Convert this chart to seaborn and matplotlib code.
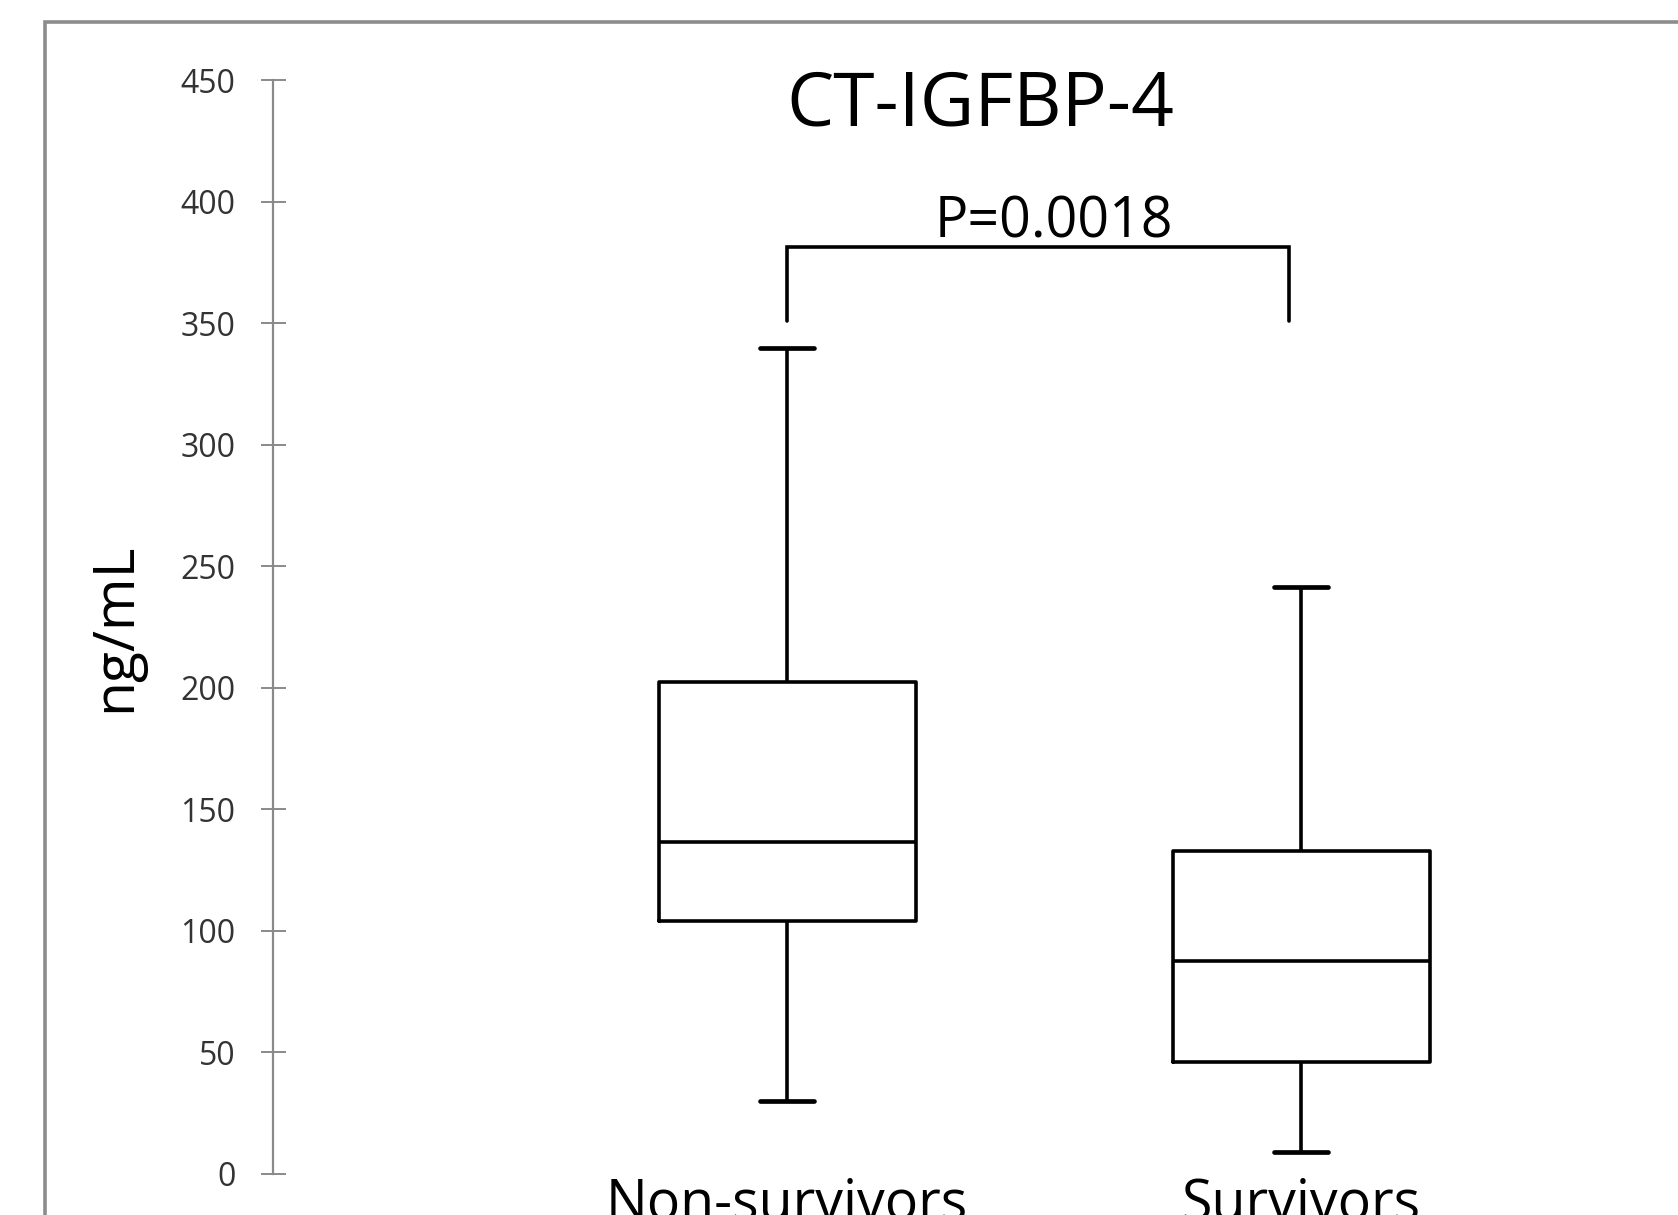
import matplotlib
matplotlib.use("Agg")
import matplotlib.pyplot as plt
import matplotlib.transforms as mtransforms
import seaborn as sns
import pandas as pd
from matplotlib.patches import Rectangle

# ---- data ----
groups = ["Non-survivors", "Survivors"]
# five-number summaries: min, Q1, median, Q3, max
nonsurv_stats = [30.0, 104.0, 136.5, 202.5, 340.0]
surv_stats = [9.0, 46.0, 87.5, 133.0, 241.5]
y_ticks = [0, 50, 100, 150, 200, 250, 300, 350, 400, 450]
title_text = "CT-IGFBP-4"
p_text = "P=0.0018"
y_label = "ng/mL"

df = pd.DataFrame({
    "group": [groups[0]] * len(nonsurv_stats) + [groups[1]] * len(surv_stats),
    "value": nonsurv_stats + surv_stats,
})

sns.set_theme(style="white")
plt.rcParams["font.family"] = ["Open Sans", "DejaVu Sans"]

W, H = 1678, 1215
fig = plt.figure(figsize=(W / 100, H / 100), dpi=100)
fig.patch.set_facecolor("white")

ax_left, ax_bottom, ax_top = 273 / W, (H - 1174) / H, 1 - 80.3 / H
ax = fig.add_axes([ax_left, ax_bottom, 1 - ax_left, ax_top - ax_bottom])

lw = 2.6
sns.boxplot(
    data=df, x="group", y="value", order=groups, ax=ax,
    whis=(0, 100), width=0.5, fill=False, color="black", linewidth=lw,
    capwidths=0.105,
    boxprops=dict(color="black", linewidth=lw),
    whiskerprops=dict(color="black", linewidth=lw),
    capprops=dict(color="black", linewidth=lw * 1.3),
    medianprops=dict(color="black", linewidth=lw),
    showfliers=False,
)

ax.set_xlim(-1.0, 1.733)
ax.set_ylim(0, 450)
ax.set_yticks(y_ticks)
ax.set_xlabel("")
ax.set_ylabel(y_label, fontsize=41, color="black")
ax.yaxis.set_label_coords(
    144 / W, 0.5,
    transform=mtransforms.blended_transform_factory(fig.transFigure, ax.transAxes))

for s in ["top", "right", "bottom"]:
    ax.spines[s].set_visible(False)
ax.spines["left"].set_color("#8a8a8a")
ax.spines["left"].set_linewidth(1.6)

ax.tick_params(axis="y", direction="inout", length=18, width=1.4, color="#8a8a8a",
               labelsize=23, labelcolor="#333333", pad=18, left=True)
ax.tick_params(axis="x", length=0, labelsize=40, labelcolor="black", pad=2, bottom=False)

# title inside the plot area
ax.text(0.375, 431.6, title_text, fontsize=54, ha="center", va="baseline", color="black")

# significance bracket
br_x = [0, 0.977]
br_low, br_high = 351, 381.4
ax.plot([br_x[0], br_x[0], br_x[1], br_x[1]], [br_low, br_high, br_high, br_low],
        color="black", linewidth=lw, solid_joinstyle="miter", clip_on=False)
ax.text(0.519, 385.5, p_text, fontsize=40, ha="center", va="baseline", color="black")

# outer frame (cropped on right/bottom)
fig.patches.append(Rectangle((45 / W, -0.1), 1.2, 1 - 22 / H + 0.1,
                             transform=fig.transFigure, fill=False,
                             edgecolor="#8c8c8c", linewidth=2.6, zorder=0))

fig.savefig("out.png", dpi=100)
